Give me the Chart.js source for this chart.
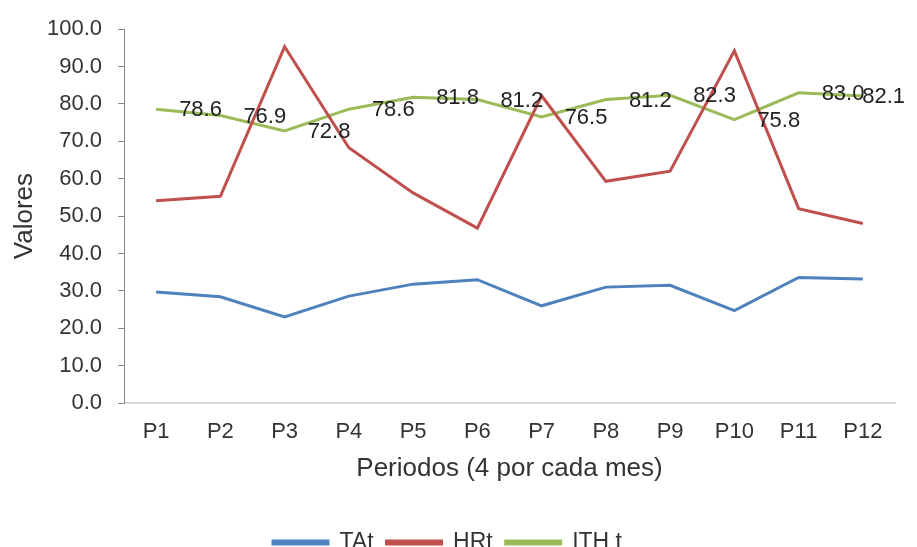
<!DOCTYPE html>
<html>
<head>
<meta charset="utf-8">
<script src="https://cdn.jsdelivr.net/npm/chart.js@4"></script>
<style>
html,body{margin:0;padding:0;background:#fff;}
#wrap{width:917px;height:547px;position:relative;}
</style>
</head>
<body>
<div id="wrap"><canvas id="c" width="917" height="547"></canvas></div>
<script>
const categories = ["P1","P2","P3","P4","P5","P6","P7","P8","P9","P10","P11","P12"];
const tatValues = [29.7, 28.4, 23.0, 28.6, 31.8, 33.0, 26.0, 31.0, 31.5, 24.7, 33.6, 33.2];
const hrtValues = [54.1, 55.3, 95.3, 68.3, 56.2, 46.8, 82.2, 59.3, 62.0, 94.2, 52.0, 48.0];
const ithValues = [78.6, 76.9, 72.8, 78.6, 81.8, 81.2, 76.5, 81.2, 82.3, 75.8, 83.0, 82.1];
const yTicks = {min: 0, max: 100, step: 10};

const FONT = "'Liberation Sans', Arial, sans-serif";
const TXT = '#333333';

const labelPlugin = {
  id: 'ithLabels',
  afterDatasetsDraw(chart) {
    const ctx = chart.ctx;
    const meta = chart.getDatasetMeta(2);
    ctx.save();
    ctx.font = '22px ' + FONT;
    ctx.fillStyle = '#222';
    ctx.textBaseline = 'middle';
    ctx.textAlign = 'left';
    meta.data.forEach((pt, i) => {
      const txt = ithValues[i].toFixed(1);
      const w = ctx.measureText(txt).width;
      let x = pt.x + 23;
      if (x + w > chart.width - 12) x = chart.width - 12 - w;
      ctx.fillText(txt, x, pt.y + 1);
    });
    ctx.restore();
  }
};

new Chart(document.getElementById('c'), {
  type: 'line',
  data: {
    labels: categories,
    datasets: [
      {label: 'TAt', data: tatValues, borderColor: '#4F81BD', backgroundColor: '#4F81BD', borderWidth: 3, pointRadius: 0, tension: 0},
      {label: 'HRt', data: hrtValues, borderColor: '#C0504D', backgroundColor: '#C0504D', borderWidth: 3, pointRadius: 0, tension: 0},
      {label: 'ITH t', data: ithValues, borderColor: '#9BBB59', backgroundColor: '#9BBB59', borderWidth: 3, pointRadius: 0, tension: 0}
    ]
  },
  options: {
    responsive: false,
    animation: false,
    devicePixelRatio: 1,
    layout: {padding: {left: 0, right: 22, top: 25, bottom: -17}},
    plugins: {
      legend: {
        position: 'bottom',
        labels: {
          font: {family: FONT, size: 23},
          color: TXT,
          boxWidth: 55,
          boxHeight: 3,
          padding: 13
        }
      },
      tooltip: {enabled: false}
    },
    scales: {
      x: {
        offset: true,
        grid: {display: true, drawOnChartArea: false, drawTicks: false},
        border: {color: '#d9d9d9', width: 2},
        ticks: {font: {family: FONT, size: 22}, color: TXT, padding: 16},
        title: {display: true, text: 'Periodos (4 por cada mes)', font: {family: FONT, size: 26}, color: TXT, padding: {top: 0, bottom: 34}},
        afterFit(s) { s.height = 115; }
      },
      y: {
        min: yTicks.min, max: yTicks.max,
        grid: {display: true, drawOnChartArea: false, drawTicks: true, tickLength: 6, color: '#868686'},
        border: {color: '#868686', width: 1},
        ticks: {stepSize: yTicks.step, font: {family: FONT, size: 22}, color: TXT, padding: 16, callback: v => v.toFixed(1)},
        title: {display: true, text: 'Valores', font: {family: FONT, size: 26}, color: TXT, padding: {top: 9, bottom: 0}},
        afterFit(s) { s.width = 124; }
      }
    }
  },
  plugins: [labelPlugin]
});
</script>
</body>
</html>
